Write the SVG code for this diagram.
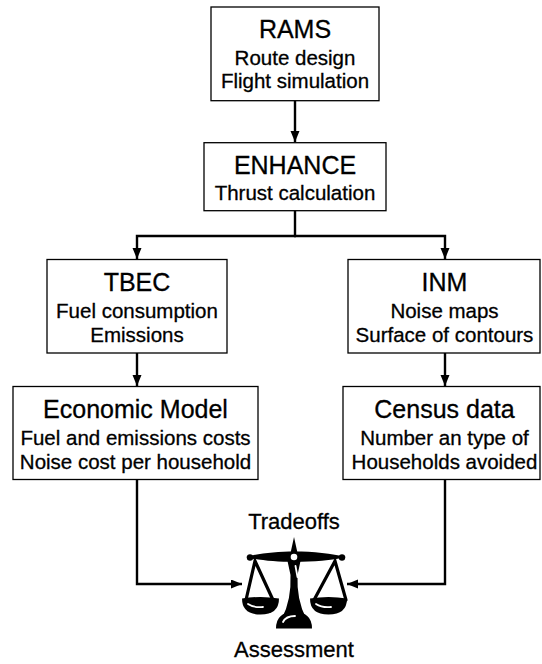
<svg xmlns="http://www.w3.org/2000/svg" width="542" height="664" viewBox="0 0 542 664">
<style>
.box{fill:#fff;stroke:#000;stroke-width:1.3}
.t{font-family:"Liberation Sans",Arial,sans-serif;font-size:25px;text-anchor:middle;fill:#000;stroke:#000;stroke-width:0.3}
.s{font-family:"Liberation Sans",Arial,sans-serif;font-size:20.5px;text-anchor:middle;fill:#000;stroke:#000;stroke-width:0.3}
.l{font-family:"Liberation Sans",Arial,sans-serif;font-size:22px;text-anchor:middle;fill:#000;stroke:#000;stroke-width:0.3}
.c{fill:none;stroke:#000;stroke-width:2.4;stroke-linejoin:miter}
</style>
<defs>
<marker id="ah" markerUnits="userSpaceOnUse" markerWidth="12" markerHeight="10" refX="11" refY="4.5" orient="auto">
<path d="M0,0 L11,4.5 L0,9 Z" fill="#000"/>
</marker>
</defs>
<rect width="542" height="664" fill="#fff"/>
<g id="connectors">
<path class="c" d="M295,100.7 V142" marker-end="url(#ah)"/>
<path class="c" d="M295,210.7 V236"/>
<path class="c" d="M296,236 H137 V259" marker-end="url(#ah)"/>
<path class="c" d="M294,236 H445 V259" marker-end="url(#ah)"/>
<path class="c" d="M137,353 V386" marker-end="url(#ah)"/>
<path class="c" d="M445,353 V386" marker-end="url(#ah)"/>
<path class="c" d="M137,479.5 V584 H242" marker-end="url(#ah)"/>
<path class="c" d="M445,479.5 V584 H347" marker-end="url(#ah)"/>
</g>
<g id="rams">
<rect class="box" x="211" y="7" width="168" height="93.7"/>
<text class="t" x="295" y="37.5">RAMS</text>
<text class="s" x="295" y="65">Route design</text>
<text class="s" x="295" y="88">Flight simulation</text>
</g>
<g id="enhance">
<rect class="box" x="204" y="142.7" width="182" height="68"/>
<text class="t" x="295" y="173.5">ENHANCE</text>
<text class="s" x="295" y="199.5">Thrust calculation</text>
</g>
<g id="tbec">
<rect class="box" x="47" y="259.5" width="180" height="93.5"/>
<text class="t" x="137" y="290.5">TBEC</text>
<text class="s" x="137" y="318">Fuel consumption</text>
<text class="s" x="137" y="342">Emissions</text>
</g>
<g id="inm">
<rect class="box" x="348" y="259.5" width="192" height="93.5"/>
<text class="t" x="444.5" y="290.5">INM</text>
<text class="s" x="444.5" y="318">Noise maps</text>
<text class="s" x="444.5" y="342">Surface of contours</text>
</g>
<g id="economic">
<rect class="box" x="13" y="386.5" width="245" height="93"/>
<text class="t" x="135.5" y="417.5">Economic Model</text>
<text class="s" x="135.5" y="445">Fuel and emissions costs</text>
<text class="s" x="135.5" y="469">Noise cost per household</text>
</g>
<g id="census">
<rect class="box" x="343" y="386.5" width="197" height="93"/>
<text class="t" x="444.5" y="417.5">Census data</text>
<text class="s" x="444.5" y="445">Number an type of</text>
<text class="s" x="444.5" y="469">Households avoided</text>
</g>
<g id="tradeoffs">
<text class="l" x="294" y="529">Tradeoffs</text>
<text class="l" x="294" y="657">Assessment</text>
<g fill="#000">
<path d="M294,537 L297.5,553 L290.5,553 Z"/>
<path d="M246,557 C270,549.5 318,549.5 346,557 C318,563.5 270,563.5 246,557 Z"/>
<circle cx="250" cy="557.5" r="3.2"/>
<circle cx="342" cy="557.5" r="3.2"/>
<path d="M287.5,561 L300.5,561 L297.5,575 Q296.5,600 306,618 L282,618 Q291.5,600 290.5,575 Z"/>
<path d="M276,628.5 Q276,612 294,612 Q312,612 312,628.5 Z"/>
<path d="M242,598.5 Q242,614.5 260.5,614.5 Q279,614.5 279,598.5 Q260.5,595.5 242,598.5 Z"/>
<path d="M310,598.5 Q310,614.5 328.5,614.5 Q347,614.5 347,598.5 Q328.5,595.5 310,598.5 Z"/>
</g>
<g fill="none" stroke="#000" stroke-width="3.2" stroke-linecap="round">
<path d="M246,600 L255,561 L273,600"/>
<path d="M314,600 L335,561 L346,600"/>
</g>
<circle cx="294" cy="557" r="3.3" fill="#fff"/>
<g fill="none" stroke="#fff" stroke-width="1.8" stroke-linecap="round">
<path d="M295.5,566 L297.5,577"/>
<path d="M248,604 Q254,608 263,607"/>
<path d="M316,604 Q322,608 331,607"/>
<path d="M283,622 Q286,616 295,616"/>
</g>
</g>
</svg>
